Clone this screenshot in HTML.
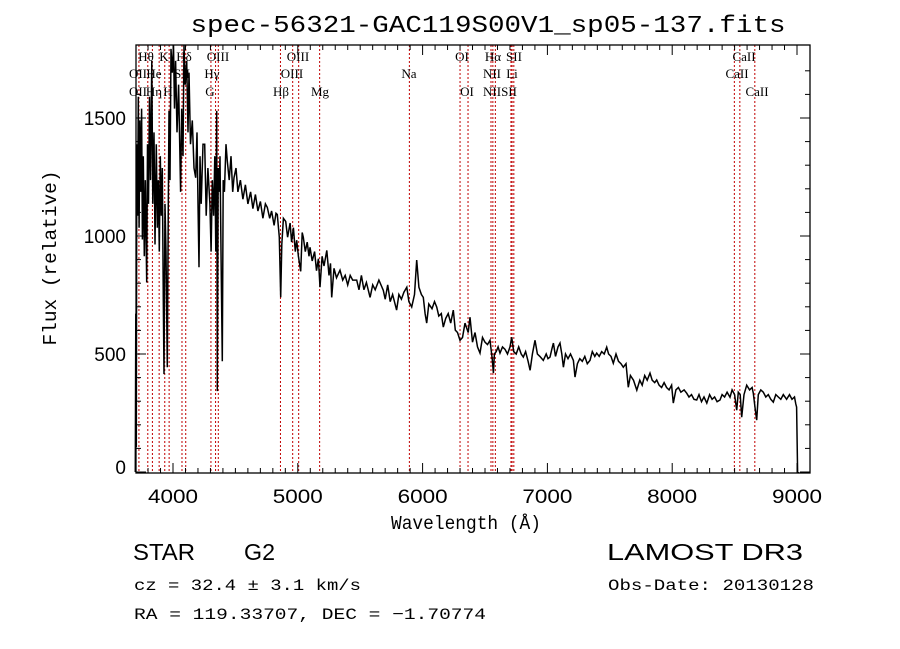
<!DOCTYPE html>
<html><head><meta charset="utf-8"><style>
html,body{margin:0;padding:0;background:#fff;}
svg{display:block;}
text{font-family:"Liberation Mono","DejaVu Sans Mono",monospace;fill:#000;}
.lbl{font-family:"Liberation Serif",serif;font-size:13px;}
.big{font-family:"Liberation Sans",sans-serif;}
</style></head><body>
<svg id="chart" width="900" height="649" viewBox="0 0 900 649" xmlns="http://www.w3.org/2000/svg">
<rect x="0" y="0" width="900" height="649" fill="#fff"/>
<text x="488" y="32" text-anchor="middle" font-size="24" textLength="595" lengthAdjust="spacingAndGlyphs">spec-56321-GAC119S00V1_sp05-137.fits</text>
<g id="lines"></g>
<g id="linelabels"></g>
<g id="spec"></g>
<g id="axes"></g>
<text x="466" y="529" text-anchor="middle" font-size="19" textLength="150" lengthAdjust="spacingAndGlyphs">Wavelength (Å)</text>
<text transform="translate(56,258) rotate(-90)" text-anchor="middle" font-size="19" textLength="175" lengthAdjust="spacingAndGlyphs">Flux (relative)</text>
<text class="big" x="133" y="560" font-size="23" textLength="62" lengthAdjust="spacingAndGlyphs">STAR</text>
<text class="big" x="244" y="560" font-size="23" textLength="31" lengthAdjust="spacingAndGlyphs">G2</text>
<text x="134" y="590" font-size="16" textLength="227" lengthAdjust="spacingAndGlyphs">cz = 32.4 ± 3.1 km/s</text>
<text x="134" y="619" font-size="16" textLength="352" lengthAdjust="spacingAndGlyphs">RA = 119.33707, DEC =  −1.70774</text>
<text class="big" x="607" y="560" font-size="23" textLength="196" lengthAdjust="spacingAndGlyphs">LAMOST DR3</text>
<text x="608" y="590" font-size="16" textLength="206" lengthAdjust="spacingAndGlyphs">Obs-Date: 20130128</text>
</svg>
<script>
const waves=[3698,3702,3706,3710,3716,3722,3728,3734,3741,3748,3755,3762,3770,3778,3789,3796,3804,3812,3820,3830,3838,3848,3856,3866,3874,3882,3890,3898,3906,3914,3922,3928,3936,3944,3954,3962,3968,3976,3984,3994,4004,4012,4021,4032,4045,4061,4070,4080,4088,4098,4110,4120,4128,4140,4155,4168,4182,4192,4200,4208,4216,4226,4240,4254,4266,4280,4296,4305,4315,4325,4335,4343,4350,4355,4362,4370,4377,4385,4395,4402,4412,4425,4435,4450,4465,4478,4489,4505,4520,4540,4560,4580,4600,4622,4640,4660,4680,4700,4720,4740,4756,4775,4790,4810,4825,4836,4852,4863,4872,4885,4903,4918,4938,4950,4965,4980,4991,5005,5023,5035,5044,5060,5075,5090,5098,5115,5135,5150,5165,5178,5195,5210,5232,5250,5262,5272,5290,5310,5338,5360,5380,5400,5420,5440,5472,5490,5510,5530,5550,5579,5600,5620,5650,5685,5700,5720,5740,5760,5792,5810,5830,5850,5873,5890,5913,5935,5953,5970,5990,6006,6020,6033,6050,6075,6095,6113,6130,6150,6166,6185,6205,6225,6246,6262,6280,6300,6320,6340,6365,6380,6400,6420,6440,6460,6480,6500,6520,6540,6558,6567,6575,6590,6605,6620,6640,6660,6680,6700,6714,6730,6750,6770,6790,6807,6825,6845,6861,6880,6901,6920,6940,6967,6990,7005,7021,7035,7048,7065,7085,7101,7115,7128,7145,7165,7185,7208,7221,7240,7260,7280,7300,7320,7341,7360,7380,7395,7415,7435,7455,7475,7490,7510,7528,7550,7570,7590,7608,7630,7648,7665,7690,7716,7740,7760,7780,7800,7822,7840,7860,7876,7895,7915,7935,7955,7975,7995,8009,8030,8050,8070,8095,8116,8135,8155,8175,8196,8215,8235,8255,8277,8300,8320,8340,8360,8383,8400,8420,8440,8463,8480,8500,8517,8530,8545,8557,8575,8597,8620,8640,8650,8665,8677,8690,8710,8730,8750,8770,8790,8810,8830,8850,8870,8890,8917,8940,8960,8980,8990,8997,9005,9015];
const fluxes=[0,671,106,1389,1086,1590,1035,1490,1187,1540,985,1338,914,1237,803,1389,1136,1590,1237,1742,1136,1439,964,1389,1035,1237,934,1338,1086,1288,732,415,1136,934,444,1136,1530,1237,1793,1692,1843,1540,1742,1439,1641,1187,1540,1338,1813,1641,1742,1439,1692,1389,1490,1288,1247,1439,1136,868,1338,1136,1389,1389,1086,1288,1136,934,1237,1086,1338,934,1530,343,1288,1187,1338,934,469,1237,1187,1389,1318,1237,1338,1187,1247,1288,1187,1237,1156,1217,1136,1187,1116,1176,1106,1146,1075,1136,1121,1075,1106,1045,1096,1091,995,740,964,1075,1062,995,1055,974,1035,934,982,914,850,1015,995,934,974,914,952,894,934,853,904,783,914,873,939,833,884,740,863,823,855,813,833,793,833,813,813,772,833,772,803,740,793,772,813,770,732,793,722,752,686,752,732,762,783,722,699,752,898,783,752,740,671,631,712,692,722,699,661,671,614,651,671,631,686,601,591,558,570,631,591,656,550,591,530,504,570,550,540,558,480,419,500,510,530,504,530,520,500,530,571,510,500,530,500,487,510,469,431,500,558,500,490,473,500,480,487,520,546,490,530,546,500,444,500,480,500,473,402,459,480,469,490,459,473,510,490,504,490,510,500,529,500,490,461,500,469,459,444,459,359,409,389,347,389,368,409,389,419,389,379,390,368,358,379,358,348,368,292,348,358,338,348,334,318,328,308,305,328,298,318,292,328,308,318,298,305,328,318,338,317,348,328,262,338,328,232,328,368,348,358,334,267,220,328,348,338,318,328,308,296,328,318,308,328,308,328,308,318,288,275,0,-20];
const lineWaves=[3727,3798,3835,3889,3934,3969,4072,4102,4304,4341,4363,4861,4959,5007,5175,5894,6300,6364,6548,6563,6583,6708,6717,6731,8498,8542,8662];
const labelTexts=["Hθ","K","Hδ","OIII","OIII","OI","Hα","SII","CaII","OII","He","SII","Hγ","OIII","Na","NII","Li","CaII","OII","Hη","H","G","Hβ","Mg","OI","NIISII","CaII"];
const labelX=[146,164,184,218,298,462,493,514,744,138,154,182,212,292,409,492,512,737,138,154,168,210,281,320,467,500,757];
const labelRow=[0,0,0,0,0,0,0,0,0,1,1,1,1,1,1,1,1,1,2,2,2,2,2,2,2,2,2];
const xTicks=[4000,5000,6000,7000,8000,9000];
const yTicks=[0,500,1000,1500];

const L=136,R=810,T=45,B=473;
const xs=w=>173+(w-4000)*0.1248;
const ys=f=>472-f*0.236;
const NS="http://www.w3.org/2000/svg";
function mk(tag,attrs,parent){const e=document.createElementNS(NS,tag);for(const k in attrs)e.setAttribute(k,attrs[k]);parent.appendChild(e);return e;}

const lg=document.getElementById('lines');
lineWaves.forEach(w=>{
  const l=mk('line',{x1:xs(w),x2:xs(w),y1:T,y2:B,stroke:'#c00000','stroke-width':1,'stroke-dasharray':'2,2'},lg);
  
  
});
const llg=document.getElementById('linelabels');
const rowY=[61,78,96];
labelTexts.forEach((t,i)=>{
  const e=mk('text',{x:labelX[i],y:rowY[labelRow[i]],'text-anchor':'middle','class':'lbl'},llg);
  e.textContent=t;
  
  
});

const sg=document.getElementById('spec');
const pts=waves.map((w,i)=>xs(w).toFixed(1)+','+Math.max(T,Math.min(B,ys(fluxes[i]))).toFixed(1)).join(' ');
const pl=mk('polyline',{points:pts,fill:'none',stroke:'#000','stroke-width':1.5,'stroke-linejoin':'miter'},sg);



const ag=document.getElementById('axes');
const frame=mk('rect',{x:L,y:T,width:R-L,height:B-T,fill:'none',stroke:'#000','stroke-width':1.3},ag);


for(let w=3800;w<=9000;w+=100){
  const x=xs(w);if(x<L||x>R)continue;
  const len=(w%1000===0)?10:5;
  mk('line',{x1:x,x2:x,y1:B,y2:B-len,stroke:'#000'},ag);
  mk('line',{x1:x,x2:x,y1:T,y2:T+len,stroke:'#000'},ag);
}
for(let f=0;f<=1750;f+=100){
  const y=ys(f);if(y<T||y>B)continue;
  const len=(f%500===0)?10:5;
  mk('line',{x1:L,x2:L+len,y1:y,y2:y,stroke:'#000'},ag);
  mk('line',{x1:R,x2:R-len,y1:y,y2:y,stroke:'#000'},ag);
}
xTicks.forEach(v=>{
  const e=mk('text',{x:xs(v),y:503,'text-anchor':'middle','font-size':19,textLength:50,lengthAdjust:'spacingAndGlyphs','class':'big'},ag);
  e.textContent=v;
  
  
});
yTicks.forEach(v=>{
  const e=mk('text',{x:126,y:Math.min(ys(v)+7,474),'text-anchor':'end','font-size':19,'class':'big'},ag);
  e.textContent=v;
  
  
});
</script>
</body></html>
